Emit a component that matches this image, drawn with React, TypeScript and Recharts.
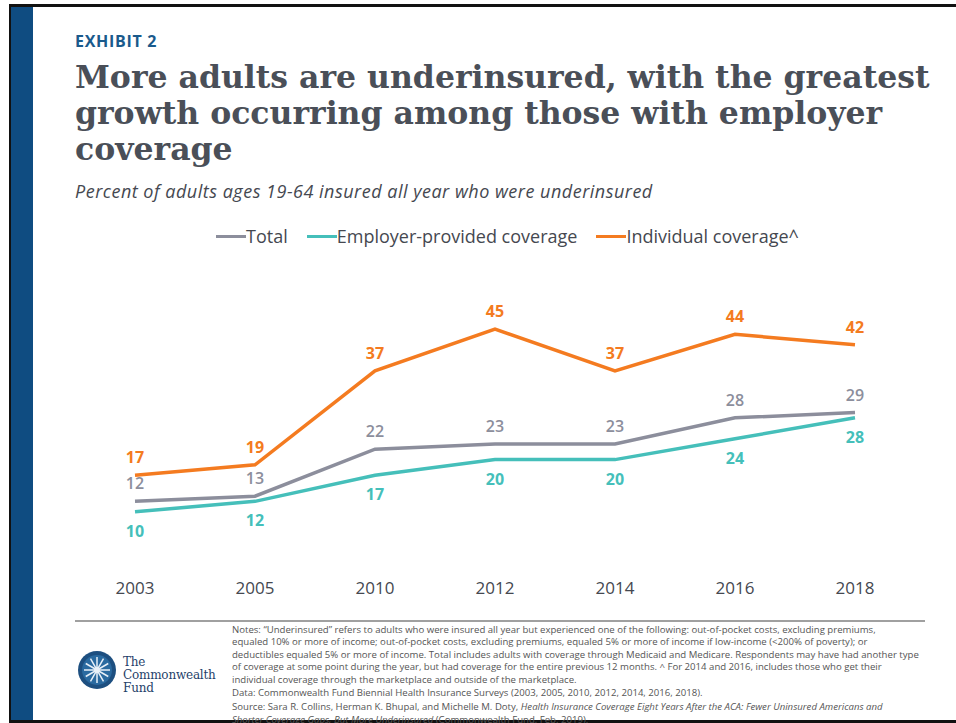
import React from "react";
import { LineChart, Line, XAxis, YAxis, LabelList } from "recharts";

const years = ["2003", "2005", "2010", "2012", "2014", "2016", "2018"];
const total = [12, 13, 22, 23, 23, 28, 29];
const employer = [10, 12, 17, 20, 20, 24, 28];
const individual = [17, 19, 37, 45, 37, 44, 42];

const data = years.map((year, i) => ({
  year,
  total: total[i],
  employer: employer[i],
  individual: individual[i],
}));

const GRAY = "#8c8e9c";
const TEAL = "#45bfba";
const ORANGE = "#f47b20";
const TEXT = "#454850";
const SANS = "'Open Sans', 'DejaVu Sans', sans-serif";

const notes = [
  "Notes: “Underinsured” refers to adults who were insured all year but experienced one of the following: out-of-pocket costs, excluding premiums,",
  "equaled 10% or more of income; out-of-pocket costs, excluding premiums, equaled 5% or more of income if low-income (<200% of poverty); or",
  "deductibles equaled 5% or more of income. Total includes adults with coverage through Medicaid and Medicare. Respondents may have had another type",
  "of coverage at some point during the year, but had coverage for the entire previous 12 months. ^ For 2014 and 2016, includes those who get their",
  "individual coverage through the marketplace and outside of the marketplace.",
];

const makeLabel =
  (color: string, weight: number, below: boolean) =>
  (props: any) => {
    const { x, y, value } = props;
    return (
      <text
        x={x}
        y={below ? y + 25 : y - 12}
        textAnchor="middle"
        fill={color}
        fontSize={16}
        fontWeight={weight}
        fontFamily={SANS}
      >
        {value}
      </text>
    );
  };

const LegendItem = ({ color, label }: { color: string; label: string }) => (
  <div style={{ display: "flex", alignItems: "center", marginRight: 19 }}>
    <span style={{ width: 30, height: 3, background: color }} />
    <span>{label}</span>
  </div>
);

const Logo = () => (
  <svg width={40} height={40} viewBox="-20 -20 40 40">
    <circle r={19} fill="#1d4f80" />
    <circle r={15} fill="#2a6aa0" />
    {[0, 30, 60, 90, 120, 150].map((a) => (
      <line
        key={a}
        x1={-13 * Math.cos((a * Math.PI) / 180)}
        y1={-13 * Math.sin((a * Math.PI) / 180)}
        x2={13 * Math.cos((a * Math.PI) / 180)}
        y2={13 * Math.sin((a * Math.PI) / 180)}
        stroke="#e8f0f8"
        strokeWidth={1.5}
      />
    ))}
    <circle r={3} fill="#e8f0f8" />
  </svg>
);

export default function App() {
  return (
    <div
      style={{
        position: "absolute",
        left: 0,
        top: 0,
        width: 956,
        height: 723,
        background: "#fff",
        overflow: "hidden",
        fontFamily: SANS,
      }}
    >
      {/* frame */}
      <div style={{ position: "absolute", left: 9, top: 4, right: 0, height: 3, background: "#111" }} />
      <div style={{ position: "absolute", left: 9, top: 4, width: 2, bottom: 0, background: "#111" }} />
      <div style={{ position: "absolute", left: 9, bottom: 0, right: 0, height: 3, background: "#111" }} />
      <div style={{ position: "absolute", left: 11, top: 7, width: 22, bottom: 3, background: "#0f4c81" }} />

      <div
        style={{
          position: "absolute",
          left: 75,
          top: 30,
          fontSize: 16,
          fontWeight: 700,
          color: "#1a5a8c",
          letterSpacing: 0.7,
        }}
      >
        EXHIBIT 2
      </div>

      <div
        style={{
          position: "absolute",
          left: 75,
          top: 59,
          fontFamily: "'DejaVu Serif', serif",
          fontWeight: 700,
          fontSize: 31.5,
          lineHeight: "36px",
          color: "#4a4f58",
          whiteSpace: "nowrap",
        }}
      >
        More adults are underinsured, with the greatest
        <br />
        growth occurring among those with employer
        <br />
        coverage
      </div>

      <div
        style={{
          position: "absolute",
          left: 75,
          top: 179,
          fontSize: 18,
          letterSpacing: 0.5,
          fontStyle: "italic",
          color: TEXT,
          whiteSpace: "nowrap",
        }}
      >
        Percent of adults ages 19-64 insured all year who were underinsured
      </div>

      <div
        style={{
          position: "absolute",
          left: 216,
          top: 224,
          display: "flex",
          fontSize: 18,
          color: TEXT,
          whiteSpace: "nowrap",
        }}
      >
        <LegendItem color={GRAY} label="Total" />
        <LegendItem color={TEAL} label="Employer-provided coverage" />
        <LegendItem color={ORANGE} label="Individual coverage^" />
      </div>

      <div style={{ position: "absolute", left: 0, top: 280 }}>
        <LineChart
          width={956}
          height={330}
          data={data}
          margin={{ top: 23, right: 101, left: 135, bottom: 16 }}
        >
          <XAxis
            dataKey="year"
            height={30}
            tickLine={false}
            axisLine={false}
            tickMargin={12}
            tick={{ fill: TEXT, fontSize: 17, fontFamily: SANS }}
            interval={0}
          />
          <YAxis hide domain={[0, 50]} />
          <Line
            dataKey="employer"
            stroke={TEAL}
            strokeWidth={3.5}
            dot={false}
            isAnimationActive={false}
          >
            <LabelList dataKey="employer" content={makeLabel(TEAL, 700, true)} />
          </Line>
          <Line
            dataKey="total"
            stroke={GRAY}
            strokeWidth={3.5}
            dot={false}
            isAnimationActive={false}
          >
            <LabelList dataKey="total" content={makeLabel(GRAY, 600, false)} />
          </Line>
          <Line
            dataKey="individual"
            stroke={ORANGE}
            strokeWidth={3.5}
            dot={false}
            isAnimationActive={false}
          >
            <LabelList dataKey="individual" content={makeLabel(ORANGE, 700, false)} />
          </Line>
        </LineChart>
      </div>

      {/* footer */}
      <div style={{ position: "absolute", left: 75, top: 620, width: 850, height: 1.5, background: "#a0a0a0" }} />
      <div style={{ position: "absolute", left: 77, top: 650 }}>
        <Logo />
      </div>
      <div
        style={{
          position: "absolute",
          left: 123,
          top: 656,
          fontFamily: "'DejaVu Serif', serif",
          fontSize: 12,
          lineHeight: "13px",
          color: "#1f3f6a",
          letterSpacing: -0.2,
        }}
      >
        The
        <br />
        Commonwealth
        <br />
        Fund
      </div>
      <div
        style={{
          position: "absolute",
          left: 232,
          top: 624,
          width: 720,
          fontSize: 9.6,
          lineHeight: "12.4px",
          color: "#555",
        }}
      >
        {notes.map((n) => (
          <div key={n} style={{ whiteSpace: "pre" }}>
            {n}
          </div>
        ))}
        <div style={{ marginTop: 1, whiteSpace: "pre" }}>
          Data: Commonwealth Fund Biennial Health Insurance Surveys (2003, 2005, 2010, 2012, 2014, 2016, 2018).
        </div>
        <div style={{ marginTop: 2, whiteSpace: "pre" }}>
          Source: Sara R. Collins, Herman K. Bhupal, and Michelle M. Doty,{" "}
          <i>
            Health Insurance Coverage Eight Years After the ACA: Fewer Uninsured Americans and
          </i>
        </div>
        <div style={{ whiteSpace: "pre" }}>
          <i>Shorter Coverage Gaps, But More Underinsured</i> (Commonwealth Fund, Feb. 2019).
        </div>
      </div>
    </div>
  );
}
